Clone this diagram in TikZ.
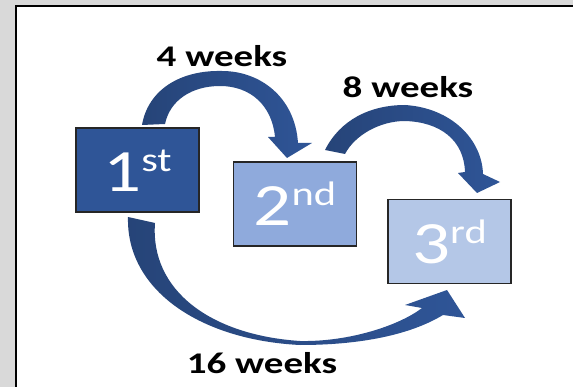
\documentclass[tikz,border=0pt]{standalone}
\usepackage{fontspec}
\setmainfont{Carlito}
\usepackage{graphicx}
\definecolor{bggray}{HTML}{D9D9D9}
\definecolor{arrowblue}{HTML}{2F5597}
\definecolor{arrowdark}{HTML}{264478}
\definecolor{boxone}{HTML}{2F5597}
\definecolor{boxtwo}{HTML}{8FAADC}
\definecolor{boxthree}{HTML}{B4C7E7}
\definecolor{boxedge}{HTML}{262626}
\begin{document}
\begin{tikzpicture}[x=1pt,y=-1pt,
  stagebox/.style={draw=boxedge, line width=1.3pt, minimum width=123pt, minimum height=84pt,
    inner sep=0pt, text height=44pt, text depth=0pt, text=white},
  weeklabel/.style={font=\bfseries\fontsize{30}{30}\selectfont, anchor=base, inner sep=0pt, text=black},
  blockarrow/.style={left color=arrowdark, right color=arrowblue, draw=none}
]
\useasboundingbox (0,0) rectangle (573,387);
\fill[bggray] (0,0) rectangle (573,387);
\clip (0,0) rectangle (573,387);
\draw[line width=2pt, fill=white] (16,6) rectangle (600,420);

% arrow 1st -> 2nd (4 weeks)
\path[blockarrow] (142,125) .. controls (148,90) and (180,70) .. (222,71)
  .. controls (260,71) and (295,97) .. (298,143)
  -- (312,143) -- (287,158) -- (268,137) -- (275,137)
  .. controls (272,105) and (250,86) .. (220,86)
  .. controls (192,86) and (170,100) .. (165,124) -- cycle;

% arrow 2nd -> 3rd (8 weeks)
\path[blockarrow] (325,150) .. controls (340,120) and (370,105) .. (405,105)
  .. controls (452,108) and (482,140) .. (483,174)
  -- (500,182) -- (477,193) -- (458,173) -- (465,172)
  .. controls (464,140) and (440,122) .. (405,121)
  .. controls (380,121) and (355,135) .. (345,154) -- cycle;

% arrow 1st -> 3rd (16 weeks)
\path[blockarrow] (128,217) .. controls (126,290) and (200,340) .. (300,345)
  .. controls (360,345) and (410,335) .. (443,315)
  -- (465,318) -- (447,290) -- (405,305) -- (422,308)
  .. controls (400,325) and (350,342) .. (300,341)
  .. controls (210,335) and (150,290) .. (155,223) -- cycle;

\node[stagebox, fill=boxone] (first) at (137.5,170)
  {\scalebox{1.25}[1]{\fontsize{60}{60}\selectfont 1\raisebox{20pt}{\fontsize{34}{34}\selectfont st}}};
\node[stagebox, fill=boxtwo] (second) at (295,204)
  {\scalebox{1.25}[1]{\fontsize{60}{60}\selectfont 2\raisebox{20pt}{\fontsize{34}{34}\selectfont nd}}};
\node[stagebox, fill=boxthree] (third) at (449.5,241.5)
  {\scalebox{1.25}[1]{\fontsize{60}{60}\selectfont 3\raisebox{20pt}{\fontsize{34}{34}\selectfont rd}}};

\node[weeklabel] (lfour) at (222,67) {\scalebox{1.3}[1]{4 weeks}};
\node[weeklabel] (leight) at (408,98) {\scalebox{1.3}[1]{8 weeks}};
\node[weeklabel] (lsixteen) at (262,373) {\scalebox{1.3}[1]{16 weeks}};
\end{tikzpicture}
\end{document}
